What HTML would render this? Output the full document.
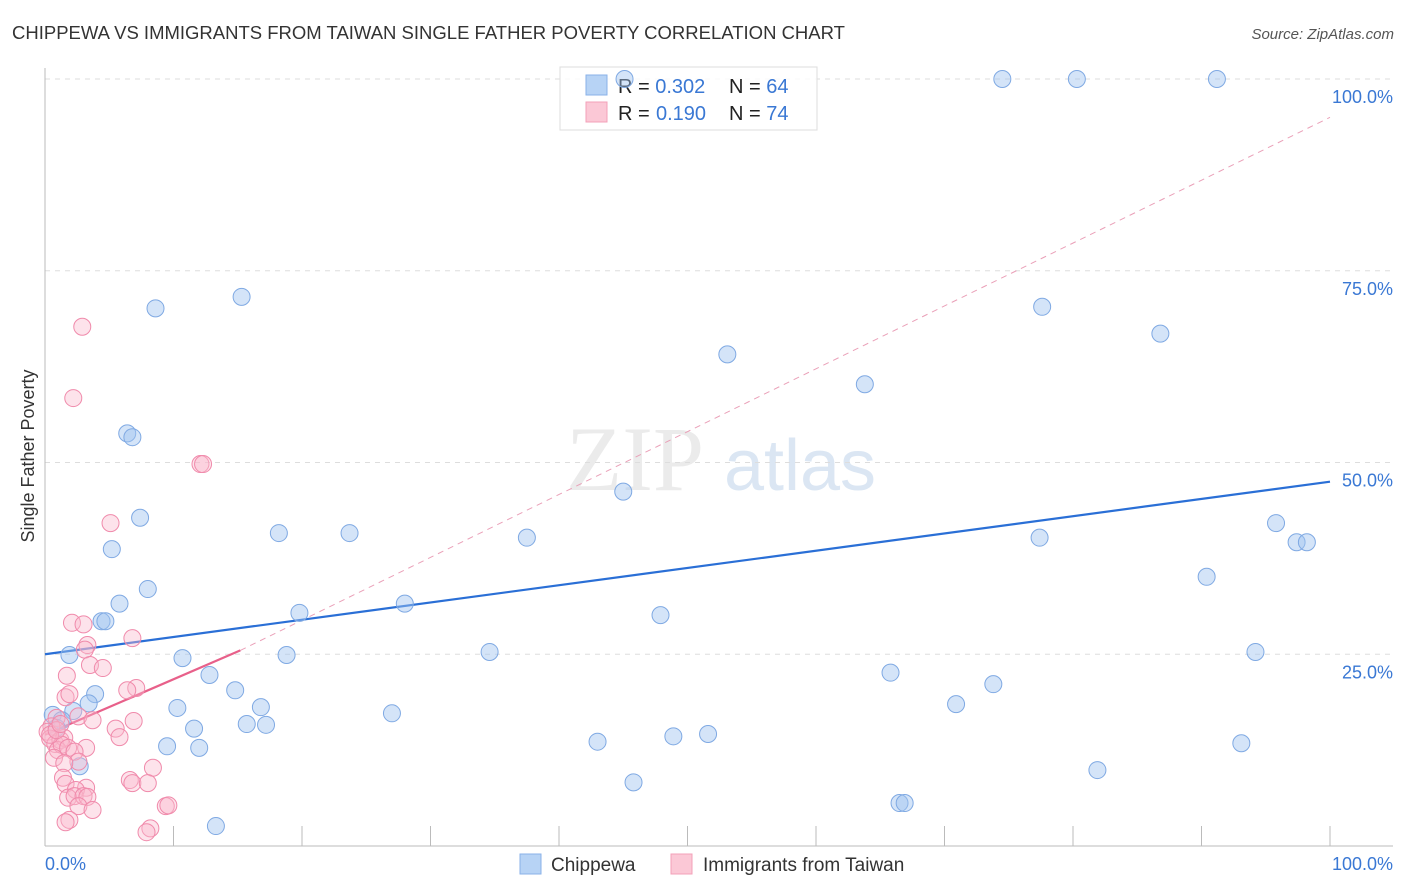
<!DOCTYPE html>
<html><head><meta charset="utf-8">
<style>
body{margin:0;background:#fff;font-family:"Liberation Sans",sans-serif;}
#wrap{position:relative;width:1406px;height:892px;overflow:hidden;}
</style></head>
<body>
<div id="wrap">
<svg id="chart" width="1406" height="892" xmlns="http://www.w3.org/2000/svg">
<text x="12" y="39" font-size="18.5" fill="#333">CHIPPEWA VS IMMIGRANTS FROM TAIWAN SINGLE FATHER POVERTY CORRELATION CHART</text>
<text x="1394" y="39" font-size="15" fill="#555" font-style="italic" text-anchor="end">Source: ZipAtlas.com</text>
<text x="34" y="456" font-size="18" fill="#333" text-anchor="middle" transform="rotate(-90 34 456)">Single Father Poverty</text>
<g opacity="0.5">
<text x="635" y="490" font-size="92" fill="#d8d8d8" font-family="Liberation Serif,serif" text-anchor="middle">ZIP</text>
<text x="800" y="490" font-size="72" fill="#b8cfe8" text-anchor="middle">atlas</text>
</g>
<g id="grid"></g><g id="axes"></g><g id="trend"></g>
<g>
<rect x="560" y="67" width="257" height="63" fill="#fff" fill-opacity="0.85" stroke="#ddd"/>
<rect x="586" y="75" width="21" height="20" fill="#b7d3f5" stroke="#8ab2e8"/>
<rect x="586" y="102" width="21" height="20" fill="#fbc8d6" stroke="#f3a0b8"/>
<text x="618" y="93" font-size="20" fill="#222">R = <tspan fill="#3a78d4">0.302</tspan><tspan x="729">N = </tspan><tspan fill="#3a78d4">64</tspan></text>
<text x="618" y="120" font-size="20" fill="#222">R = <tspan x="656" fill="#3a78d4">0.190</tspan><tspan x="729">N = </tspan><tspan fill="#3a78d4">74</tspan></text>
</g>
<g id="pts"></g>
<g>
<rect x="520" y="854" width="21" height="20" fill="#b7d3f5" stroke="#8ab2e8"/>
<text x="551" y="871" font-size="19" fill="#333">Chippewa</text>
<rect x="671" y="854" width="21" height="20" fill="#fbc8d6" stroke="#f3a0b8"/>
<text x="703" y="871" font-size="19" fill="#333">Immigrants from Taiwan</text>
</g>
</svg>
</div>
<script>
const yTicks=[25,50,75,100];
const yTickLabels=["25.0%","50.0%","75.0%","100.0%"];
const xTickLabels=["0.0%","100.0%"];
const blueX=[45.1,74.5,80.3,91.2,8.6,15.3,77.6,86.8,53.1,63.8,6.4,6.8,45.0,7.4,5.2,18.2,23.7,37.5,77.4,95.8,97.4,98.2,90.4,8.0,5.8,28.0,19.8,4.4,4.7,47.9,1.9,10.7,18.8,34.6,94.2,12.8,65.8,73.8,3.9,14.8,3.4,10.3,16.8,2.2,70.9,27.0,0.6,1.3,15.7,17.2,11.6,9.5,12.0,43.0,48.9,51.6,93.1,2.7,81.9,45.8,13.3,66.5,66.9,0.9];
const blueY=[100,100,100,100,70.1,71.6,70.3,66.8,64.1,60.2,53.8,53.3,46.2,42.8,38.7,40.8,40.8,40.2,40.2,42.1,39.6,39.6,35.1,33.5,31.6,31.6,30.4,29.3,29.3,30.1,24.9,24.5,24.9,25.3,25.3,22.3,22.6,21.1,19.8,20.3,18.6,18.0,18.1,17.6,18.5,17.3,17.1,16.4,15.9,15.8,15.3,13.0,12.8,13.6,14.3,14.6,13.4,10.4,9.9,8.3,2.6,5.6,5.6,15.4];
const pinkX=[2.9,2.2,12.1,12.3,5.1,2.1,3.0,6.8,3.3,3.1,3.5,4.5,1.7,7.1,6.4,1.6,1.9,2.6,3.7,6.9,5.5,5.8,0.9,0.5,0.2,0.4,0.8,1.2,1.5,1.0,1.3,3.2,1.8,2.3,0.7,2.6,1.5,8.4,6.6,6.8,8.0,1.4,1.6,3.2,2.4,1.8,2.3,3.0,3.3,2.6,3.7,9.4,9.6,1.9,1.6,8.2,7.9,0.4,0.9,1.2];
const pinkY=[67.7,58.4,49.8,49.8,42.1,29.1,28.9,27.1,26.2,25.6,23.6,23.2,22.2,20.6,20.3,19.4,19.8,16.9,16.4,16.3,15.3,14.2,16.7,15.6,14.9,14.0,13.3,13.8,14.1,12.5,13.2,12.8,12.8,12.3,11.5,11.0,10.8,10.2,8.6,8.2,8.2,8.9,8.1,7.6,7.3,6.3,6.5,6.5,6.4,5.2,4.7,5.2,5.3,3.4,3.1,2.3,1.8,14.5,15.1,15.9];
const blueTrend=[0,25,100,47.5];
const pinkTrend=[0,14.5,15.2,25.5];
const pinkDash=[15.2,25.5,100,95];

const X=v=>45+v*12.85;
const Y=v=>846-v*7.67;
const NS="http://www.w3.org/2000/svg";
function mk(tag,attrs,parent){const e=document.createElementNS(NS,tag);for(const k in attrs)e.setAttribute(k,attrs[k]);document.getElementById(parent).appendChild(e);return e;}
yTicks.forEach((t,i)=>{
 const g=mk('line',{x1:45,x2:1393,y1:Y(t),y2:Y(t),stroke:'#ddd','stroke-dasharray':'5,5'},'grid');
 
 
 const l=mk('text',{x:1393,y:Y(t)+24,'font-size':18,fill:'#3a78d4','text-anchor':'end'},'grid');
 l.textContent=yTickLabels[i];
 
 
});
const ax=mk('line',{x1:45,x2:45,y1:68,y2:846,stroke:'#bbb'},'axes');


const bx=mk('line',{x1:45,x2:1393,y1:846,y2:846,stroke:'#bbb'},'axes');


for(let i=0;i<=10;i++){
 const t=mk('line',{x1:X(i*10),x2:X(i*10),y1:826,y2:846,stroke:'#bbb'},'axes');
 
 
}
[[0,'start',45],[1,'end',1393]].forEach(([i,a,x])=>{
 const l=mk('text',{x:x,y:870,'font-size':18,fill:'#3a78d4','text-anchor':a},'axes');
 l.textContent=xTickLabels[i];
 
 
});
blueX.forEach((v,i)=>{
 const c=mk('circle',{cx:X(v),cy:Y(blueY[i]),r:8.5,fill:'rgba(160,196,240,0.45)',stroke:'#7fa9e3','stroke-width':1},'pts');
 
 
});
pinkX.forEach((v,i)=>{
 const c=mk('circle',{cx:X(v),cy:Y(pinkY[i]),r:8.5,fill:'rgba(250,185,205,0.4)',stroke:'#f08aab','stroke-width':1},'pts');
 
 
});
const pd=mk('line',{x1:X(pinkDash[0]),y1:Y(pinkDash[1]),x2:X(pinkDash[2]),y2:Y(pinkDash[3]),stroke:'#eaa0b8','stroke-width':1,'stroke-dasharray':'6,5'},'trend');


const bt=mk('line',{x1:X(blueTrend[0]),y1:Y(blueTrend[1]),x2:X(blueTrend[2]),y2:Y(blueTrend[3]),stroke:'#2a6fd6','stroke-width':2.2},'trend');


const pt=mk('line',{x1:X(pinkTrend[0]),y1:Y(pinkTrend[1]),x2:X(pinkTrend[2]),y2:Y(pinkTrend[3]),stroke:'#e8608a','stroke-width':2.2},'trend');


</script>
</body></html>
